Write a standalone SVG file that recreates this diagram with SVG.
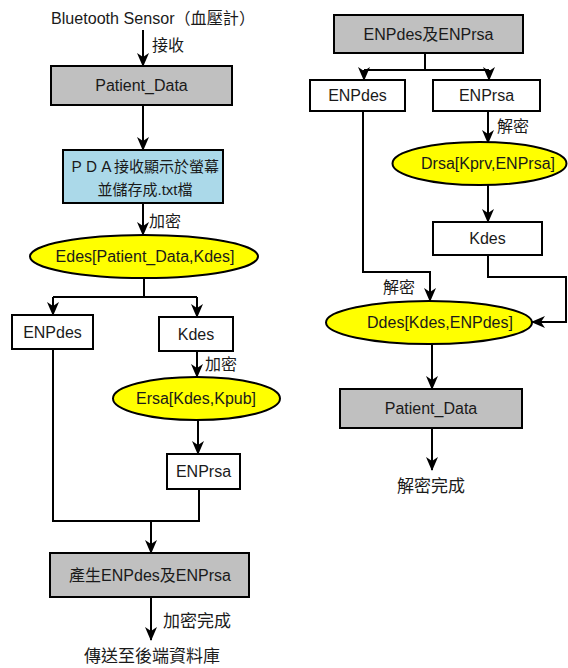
<svg xmlns="http://www.w3.org/2000/svg" width="568" height="668" viewBox="0 0 568 668">
<style>
text{font-family:"Liberation Sans","Noto Sans CJK TC",sans-serif;font-size:16px;fill:#1a1a1a;text-anchor:middle}
.lbl{text-anchor:start}
.cj{font-size:17px}
.box{stroke:#000;stroke-width:2}
.gray{fill:#c0c0c0}
.white{fill:#fff}
.blue{fill:#abd9e9}
.ell{fill:#ffff00;stroke:#000;stroke-width:2}
.ln{fill:none;stroke:#000;stroke-width:2}
.arr{marker-end:url(#ah)}
</style>
<defs>
<marker id="ah" viewBox="0 0 14 12" refX="13" refY="6" markerWidth="14" markerHeight="12" markerUnits="userSpaceOnUse" orient="auto">
<path d="M0,0 L14,6 L0,12 L4,6 z" fill="#000"/>
</marker>
</defs>
<rect width="568" height="668" fill="#fff"/>

<g id="connectors">
<path class="ln arr" d="M143,30 V66"/>
<path class="ln arr" d="M143,105 V150"/>
<path class="ln arr" d="M143,203 V235"/>
<path class="ln" d="M144,278 V297"/>
<path class="ln" d="M53,297 H197"/>
<path class="ln arr" d="M53,297 V315"/>
<path class="ln arr" d="M197,297 V317"/>
<path class="ln arr" d="M197,351 V377"/>
<path class="ln arr" d="M198,420 V454"/>
<path class="ln" d="M53,349 V521 H199 V489"/>
<path class="ln arr" d="M151,521 V553"/>
<path class="ln arr" d="M151,597 V640"/>

<path class="ln" d="M425,53 V70"/>
<path class="ln" d="M364,70 H489"/>
<path class="ln arr" d="M364,70 V80"/>
<path class="ln arr" d="M489,70 V80"/>
<path class="ln arr" d="M488,111 V143"/>
<path class="ln arr" d="M488,185 V222"/>
<path class="ln arr" d="M488,255 V277 H566 V322 H532"/>
<path class="ln arr" d="M363,111 V272 H430 V301"/>
<path class="ln arr" d="M432,344 V389"/>
<path class="ln arr" d="M432,428 V470"/>

<text class="lbl" x="152" y="51">接收</text>
<text class="lbl" x="149" y="227">加密</text>
<text class="lbl" x="205" y="370">加密</text>
<text class="lbl cj" x="163" y="627">加密完成</text>
<text class="lbl" x="497" y="132">解密</text>
<text class="lbl" x="383" y="293">解密</text>
</g>

<g id="source"><text class="lbl" x="51" y="24" textLength="204" lengthAdjust="spacingAndGlyphs">Bluetooth Sensor（血壓計）</text></g>

<g id="patient-data-1">
<rect class="box gray" x="51" y="66" width="181" height="39"/>
<text x="141.5" y="91">Patient_Data</text>
</g>

<g id="pda">
<rect class="box blue" x="63" y="150" width="160" height="53"/>
<text x="144" y="172" style="font-size:15px">ＰＤＡ接收顯示於螢幕</text>
<text x="145" y="195" style="font-size:15px">並儲存成.txt檔</text>
</g>

<g id="edes">
<ellipse class="ell" cx="144" cy="256.5" rx="114" ry="21.5"/>
<text x="145" y="262">Edes[Patient_Data,Kdes]</text>
</g>

<g id="enpdes-1">
<rect class="box white" x="12" y="315" width="81" height="34"/>
<text x="52.5" y="338">ENPdes</text>
</g>

<g id="kdes-1">
<rect class="box white" x="159" y="317" width="74" height="34"/>
<text x="196" y="340">Kdes</text>
</g>

<g id="ersa">
<ellipse class="ell" cx="196.5" cy="398.5" rx="83.5" ry="21.5"/>
<text x="196" y="404">Ersa[Kdes,Kpub]</text>
</g>

<g id="enprsa-1">
<rect class="box white" x="167" y="454" width="73" height="35"/>
<text x="203.5" y="477">ENPrsa</text>
</g>

<g id="produce">
<rect class="box gray" x="50" y="553" width="199" height="44"/>
<text x="150" y="581">產生ENPdes及ENPrsa</text>
</g>

<g id="send"><text class="cj" x="152" y="662">傳送至後端資料庫</text></g>

<g id="enp-both">
<rect class="box gray" x="334" y="15" width="189" height="38"/>
<text x="428.5" y="40">ENPdes及ENPrsa</text>
</g>

<g id="enpdes-2">
<rect class="box white" x="310" y="80" width="95" height="31"/>
<text x="357.5" y="101">ENPdes</text>
</g>

<g id="enprsa-2">
<rect class="box white" x="433" y="80" width="107" height="31"/>
<text x="486.5" y="101">ENPrsa</text>
</g>

<g id="drsa">
<ellipse class="ell" cx="479.5" cy="163.5" rx="87" ry="21.5"/>
<text x="488" y="169">Drsa[Kprv,ENPrsa]</text>
</g>

<g id="kdes-2">
<rect class="box white" x="433" y="222" width="109" height="33"/>
<text x="487.5" y="244">Kdes</text>
</g>

<g id="ddes">
<ellipse class="ell" cx="429" cy="322.5" rx="103" ry="21.5"/>
<text x="440" y="328">Ddes[Kdes,ENPdes]</text>
</g>

<g id="patient-data-2">
<rect class="box gray" x="340" y="389" width="182" height="39"/>
<text x="431" y="414">Patient_Data</text>
</g>

<g id="done"><text class="cj" x="431" y="492">解密完成</text></g>
</svg>
